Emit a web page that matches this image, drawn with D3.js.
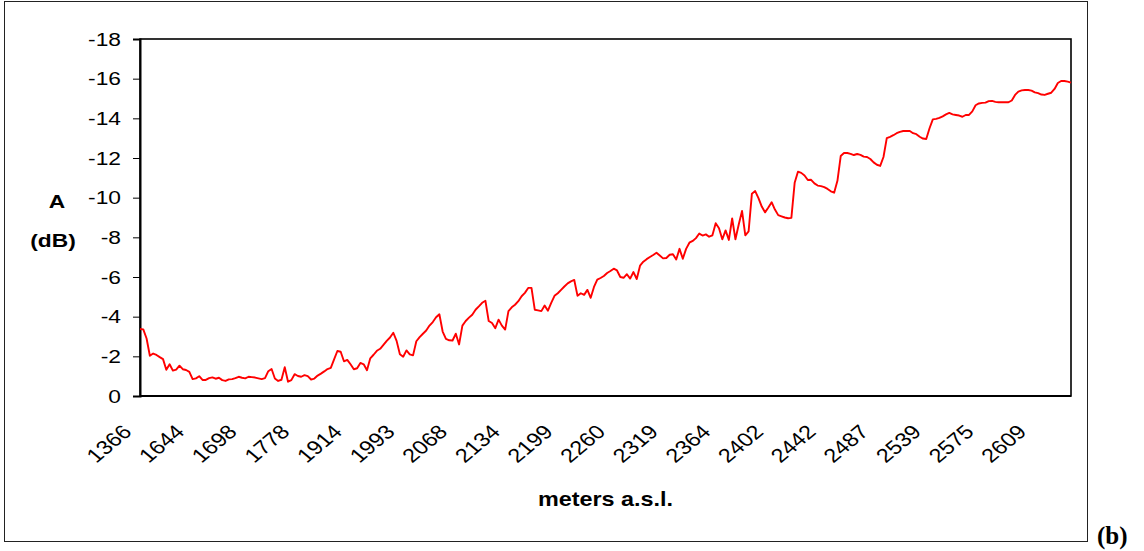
<!DOCTYPE html>
<html>
<head>
<meta charset="utf-8">
<script src="https://cdn.jsdelivr.net/npm/d3@7"></script>
<style>
  body { margin: 0; background: #fff; }
  svg { display: block; }
</style>
</head>
<body>
<svg id="chart" width="1144" height="551"></svg>
<script>
// Attenuation A (dB) along the altitude profile, one value per sample
const attenuation = [
  -3.38, -3.36, -2.90, -2.03, -2.14, -2.07, -1.96, -1.86, -1.32, -1.60,
  -1.28, -1.33, -1.53, -1.35, -1.31, -1.22, -0.85, -0.89, -1.00, -0.81,
  -0.81, -0.90, -0.94, -0.87, -0.92, -0.80, -0.76, -0.84, -0.85, -0.90,
  -0.97, -0.92, -0.89, -0.97, -0.95, -0.93, -0.89, -0.85, -0.90, -1.25,
  -1.36, -0.88, -0.76, -0.82, -1.45, -0.72, -0.80, -1.10, -1.01, -0.97,
  -1.05, -1.00, -0.83, -0.88, -1.03, -1.13, -1.24, -1.36, -1.42, -1.85,
  -2.27, -2.23, -1.75, -1.82, -1.60, -1.35, -1.40, -1.67, -1.60, -1.30,
  -1.90, -2.08, -2.28, -2.38, -2.58, -2.78, -2.95, -3.19, -2.78, -2.10,
  -1.98, -2.30, -2.10, -2.05, -2.76, -2.97, -3.14, -3.30, -3.55, -3.73,
  -3.97, -4.12, -3.25, -2.88, -2.81, -2.80, -3.14, -2.60, -3.55, -3.78,
  -3.95, -4.10, -4.35, -4.52, -4.70, -4.80, -3.78, -3.68, -3.42, -3.85,
  -3.55, -3.35, -4.28, -4.47, -4.60, -4.78, -5.03, -5.20, -5.45, -5.45,
  -4.35, -4.32, -4.28, -4.56, -4.30, -4.70, -5.05, -5.18, -5.35, -5.52,
  -5.68, -5.78, -5.85, -5.05, -5.18, -5.10, -5.35, -4.95, -5.50, -5.87,
  -5.95, -6.05, -6.20, -6.30, -6.42, -6.33, -6.00, -5.96, -6.14, -5.92,
  -6.25, -5.90, -6.57, -6.77, -6.90, -7.01, -7.11, -7.22, -7.08, -6.94,
  -6.96, -7.12, -7.15, -6.88, -7.42, -6.92, -7.42, -7.73, -7.82, -7.96,
  -8.19, -8.09, -8.15, -8.03, -8.10, -8.71, -8.46, -7.90, -8.35, -7.87,
  -8.95, -7.90, -8.65, -9.33, -8.10, -8.30, -10.20, -10.33, -9.98, -9.55,
  -9.26, -9.50, -9.77, -9.40, -9.12, -9.06, -9.00, -8.96, -8.98, -10.75,
  -11.31, -11.25, -11.12, -10.89, -10.90, -10.72, -10.61, -10.58, -10.53, -10.44,
  -10.32, -10.25, -10.85, -12.10, -12.25, -12.25, -12.21, -12.15, -12.20, -12.16,
  -12.07, -12.05, -11.95, -11.78, -11.66, -11.60, -12.05, -13.00, -13.07, -13.15,
  -13.25, -13.32, -13.36, -13.36, -13.36, -13.25, -13.20, -13.07, -12.98, -12.96,
  -13.50, -13.95, -13.97, -14.02, -14.10, -14.20, -14.27, -14.20, -14.17, -14.14,
  -14.08, -14.17, -14.17, -14.35, -14.66, -14.75, -14.78, -14.79, -14.87, -14.88,
  -14.83, -14.81, -14.81, -14.81, -14.81, -14.90, -15.18, -15.35, -15.41, -15.43,
  -15.43, -15.40, -15.31, -15.27, -15.20, -15.18, -15.24, -15.29, -15.48, -15.78,
  -15.88, -15.88, -15.85, -15.80
];

// Altitude labels (meters a.s.l.), one every `labelStep` samples
const altitudeLabels = ["1366", "1644", "1698", "1778", "1914", "1993", "2068", "2134", "2199",
                        "2260", "2319", "2364", "2402", "2442", "2487", "2539", "2575", "2609"];
const labelStep = 16;

// Value axis ticks (dB)
const yTicks = [0, -2, -4, -6, -8, -10, -12, -14, -16, -18];

const svg = d3.select("#chart");
const plot = { left: 140, right: 1071, top: 39, bottom: 396 };
const textStretch = 1.2;
const sans = "'Liberation Sans', Arial, sans-serif";

// Outer frame
svg.append("rect")
  .attr("x", 4.5).attr("y", 1.5)
  .attr("width", 1083).attr("height", 540)
  .attr("fill", "none").attr("stroke", "#222").attr("stroke-width", 1);

const x = d3.scaleLinear().domain([0, attenuation.length - 1]).range([plot.left, plot.right]);
const y = d3.scaleLinear().domain([0, -18]).range([plot.bottom, plot.top]);

// Plot area border
svg.append("rect")
  .attr("x", plot.left).attr("y", plot.top)
  .attr("width", plot.right - plot.left).attr("height", plot.bottom - plot.top)
  .attr("fill", "none").attr("stroke", "#000").attr("stroke-width", 1.6);

// Value axis
const yAxis = svg.append("g")
  .attr("transform", `translate(${plot.left},0)`)
  .call(d3.axisLeft(y).tickValues(yTicks).tickSize(7).tickFormat(d3.format("d")));
yAxis.select(".domain").attr("stroke", "#000").attr("stroke-width", 2);
yAxis.selectAll(".tick line").attr("stroke", "#000").attr("stroke-width", 1);
yAxis.selectAll(".tick text")
  .attr("x", null)
  .attr("transform", `translate(-19,0) scale(${textStretch},1)`)
  .attr("font-family", sans)
  .attr("font-size", 19)
  .attr("fill", "#000")
  .text(d => d === 0 ? "0" : "-" + Math.abs(d));

// Category axis baseline
svg.append("line")
  .attr("x1", plot.left).attr("x2", plot.right)
  .attr("y1", plot.bottom).attr("y2", plot.bottom)
  .attr("stroke", "#000").attr("stroke-width", 2);

// Rotated altitude labels
svg.append("g")
  .selectAll("text")
  .data(altitudeLabels)
  .join("text")
  .attr("transform", (d, i) => `translate(${x(i * labelStep) - 7},433) scale(${textStretch},1) rotate(-45)`)
  .attr("text-anchor", "end")
  .attr("font-family", sans)
  .attr("font-size", 19.5)
  .attr("fill", "#000")
  .text(d => d);

// Attenuation profile
const line = d3.line()
  .x((d, i) => x(i))
  .y(d => y(d));
svg.append("path")
  .datum(attenuation)
  .attr("d", line)
  .attr("fill", "none")
  .attr("stroke", "#ff0000")
  .attr("stroke-width", 1.9)
  .attr("stroke-linejoin", "round");

// Axis titles
svg.append("text")
  .attr("transform", `translate(57,208) scale(${textStretch},1)`)
  .attr("text-anchor", "middle")
  .attr("font-family", sans).attr("font-weight", "bold").attr("font-size", 19)
  .text("A");
svg.append("text")
  .attr("transform", `translate(53,247) scale(${textStretch},1)`)
  .attr("text-anchor", "middle")
  .attr("font-family", sans).attr("font-weight", "bold").attr("font-size", 19)
  .text("(dB)");
svg.append("text")
  .attr("transform", `translate(${(plot.left + plot.right) / 2},506) scale(${textStretch},1)`)
  .attr("text-anchor", "middle")
  .attr("font-family", sans).attr("font-weight", "bold").attr("font-size", 19.5)
  .text("meters a.s.l.");

// Panel letter
svg.append("text")
  .attr("x", 1097).attr("y", 544)
  .attr("font-family", "'Liberation Serif', 'Times New Roman', serif")
  .attr("font-weight", "bold").attr("font-size", 25)
  .text("(b)");
</script>
</body>
</html>
